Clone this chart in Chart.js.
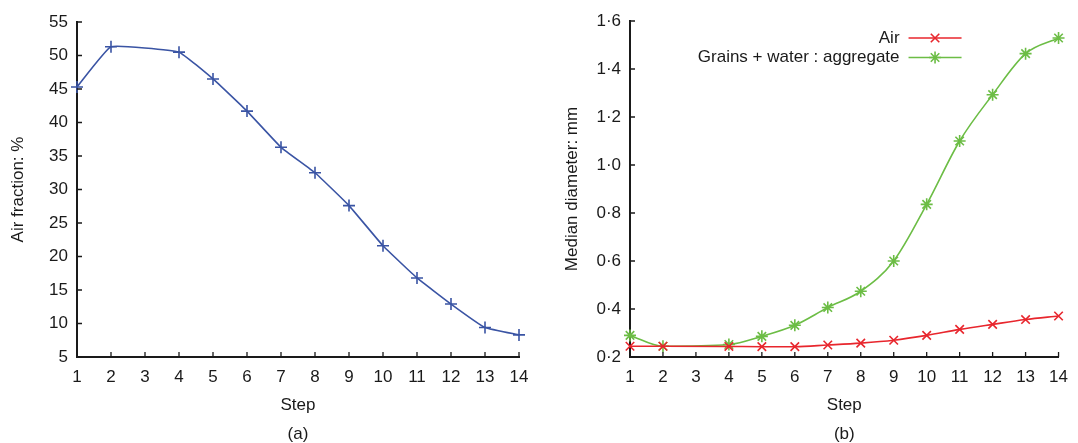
<!DOCTYPE html>
<html>
<head>
<meta charset="utf-8">
<script src="https://cdn.jsdelivr.net/npm/chart.js@4/dist/chart.umd.min.js"></script>
<style>
  html, body { margin: 0; padding: 0; background: #fff; }
  body { width: 1078px; height: 443px; position: relative; overflow: hidden; }
  .box { position: absolute; top: 0; height: 443px; }
  #boxA { left: 0; width: 540px; }
  #boxB { left: 540px; width: 538px; }
</style>
</head>
<body>
<div class="box" id="boxA"><canvas id="chartA"></canvas></div>
<div class="box" id="boxB"><canvas id="chartB"></canvas></div>
<script>
// values
const steps = [1, 2, 4, 5, 6, 7, 8, 9, 10, 11, 12, 13, 14];
const airFraction = [45.3, 51.3, 50.5, 46.5, 41.7, 36.3, 32.5, 27.6, 21.6, 16.8, 12.9, 9.4, 8.3];
const airDiameter = [0.245, 0.245, 0.244, 0.243, 0.243, 0.25, 0.258, 0.27, 0.29, 0.315, 0.336, 0.356, 0.371];
const grainDiameter = [0.29, 0.245, 0.252, 0.286, 0.332, 0.406, 0.474, 0.60, 0.836, 1.10, 1.293, 1.464, 1.529];
const seriesNames = ['Air', 'Grains + water : aggregate'];

const FONT = 'Liberation Sans, Arial, Helvetica, sans-serif';
const INK = '#1a1a1a';
const BLUE = '#3a54a4';
const RED = '#e8262d';
const GREEN = '#6cbd45';

Chart.defaults.font.family = FONT;
Chart.defaults.font.size = 17;
Chart.defaults.color = INK;

const pts = (ys) => steps.map((s, i) => ({ x: s, y: ys[i] }));

// gnuplot style: short tick marks pointing into the plot + caption under the axis
const innerTicks = {
  id: 'innerTicks',
  afterDraw(chart, args, opts) {
    const { ctx, chartArea, scales } = chart;
    ctx.save();
    ctx.strokeStyle = INK;
    ctx.lineWidth = 1.3;
    ctx.beginPath();
    scales.x.ticks.forEach(t => {
      const px = scales.x.getPixelForValue(t.value);
      ctx.moveTo(px, chartArea.bottom);
      ctx.lineTo(px, chartArea.bottom - 5);
    });
    scales.y.ticks.forEach(t => {
      const py = scales.y.getPixelForValue(t.value);
      ctx.moveTo(chartArea.left, py);
      ctx.lineTo(chartArea.left + 5, py);
    });
    ctx.stroke();
    if (opts.caption) {
      ctx.fillStyle = INK;
      ctx.font = '17px ' + FONT;
      ctx.textAlign = 'center';
      ctx.textBaseline = 'middle';
      ctx.fillText(opts.caption, (chartArea.left + chartArea.right) / 2, 434);
    }
    ctx.restore();
  }
};

// legend of panel (b): text right-aligned, line sample with marker on its right
const sideLegend = {
  id: 'sideLegend',
  afterDraw(chart, args, opts) {
    if (!opts.show) return;
    const { ctx, chartArea } = chart;
    const lineEnd = chartArea.right - 97;
    const lineStart = lineEnd - 53;
    ctx.save();
    ctx.font = '17px ' + FONT;
    ctx.textAlign = 'right';
    ctx.textBaseline = 'middle';
    chart.data.datasets.forEach((ds, i) => {
      const y = 38 + i * 19.5;
      ctx.fillStyle = INK;
      ctx.fillText(ds.label, lineStart - 9, y);
      ctx.strokeStyle = ds.borderColor;
      ctx.lineWidth = ds.borderWidth;
      ctx.beginPath();
      ctx.moveTo(lineStart, y);
      ctx.lineTo(lineEnd, y);
      ctx.stroke();
      Chart.helpers.drawPoint(ctx, {
        pointStyle: ds.pointStyle, radius: ds.pointRadius,
        borderWidth: ds.pointBorderWidth
      }, (lineStart + lineEnd) / 2, y);
    });
    ctx.restore();
  }
};

function axes(yMin, yMax, yStep, yTitle, yWidth, yTitlePad, yFmt) {
  return {
    x: {
      type: 'linear', min: 1, max: 14,
      ticks: { stepSize: 1, padding: 10, autoSkip: false },
      grid: { drawOnChartArea: false, drawTicks: false },
      border: { color: INK, width: 2 },
      title: { display: true, text: 'Step', padding: { top: 0, bottom: 27 } },
      afterFit(s) { s.height = 86; }
    },
    y: {
      min: yMin, max: yMax,
      ticks: { stepSize: yStep, padding: 9, callback: yFmt },
      grid: { drawOnChartArea: false, drawTicks: false },
      border: { color: INK, width: 2 },
      title: { display: true, text: yTitle, padding: { top: yTitlePad, bottom: 0 } },
      afterFit(s) { s.width = yWidth; }
    }
  };
}

const common = {
  responsive: true,
  maintainAspectRatio: false,
  animation: false,
  plugins: { legend: { display: false }, tooltip: { enabled: false } }
};

new Chart(document.getElementById('chartA'), {
  type: 'line',
  data: {
    datasets: [{
      label: 'Air fraction', data: pts(airFraction),
      borderColor: BLUE, backgroundColor: BLUE, borderWidth: 1.6,
      pointStyle: 'cross', pointRadius: 6, pointBorderWidth: 1.6, pointBorderColor: BLUE,
      tension: 0.1, clip: false
    }]
  },
  options: {
    ...common,
    layout: { padding: { top: 22, right: 21, bottom: 0, left: 0 } },
    scales: axes(5, 55, 5, 'Air fraction: %', 77, 8, v => v),
    plugins: { ...common.plugins, innerTicks: { caption: '(a)' }, sideLegend: { show: false } }
  },
  plugins: [innerTicks, sideLegend]
});

new Chart(document.getElementById('chartB'), {
  type: 'line',
  data: {
    datasets: [{
      label: seriesNames[0], data: pts(airDiameter),
      borderColor: RED, backgroundColor: RED, borderWidth: 1.6,
      pointStyle: 'crossRot', pointRadius: 6, pointBorderWidth: 1.6, pointBorderColor: RED,
      cubicInterpolationMode: 'monotone', clip: false
    }, {
      label: seriesNames[1], data: pts(grainDiameter),
      borderColor: GREEN, backgroundColor: GREEN, borderWidth: 1.6,
      pointStyle: 'star', pointRadius: 6, pointBorderWidth: 1.6, pointBorderColor: GREEN,
      cubicInterpolationMode: 'monotone', clip: false
    }]
  },
  options: {
    ...common,
    layout: { padding: { top: 21, right: 16, bottom: 0, left: 0 } },
    scales: axes(0.2, 1.6, 0.2, 'Median diameter: mm', 90, 22, v => v.toFixed(1).replace('.', '\u00b7')),
    plugins: { ...common.plugins, innerTicks: { caption: '(b)' }, sideLegend: { show: true } }
  },
  plugins: [innerTicks, sideLegend]
});
</script>
</body>
</html>
